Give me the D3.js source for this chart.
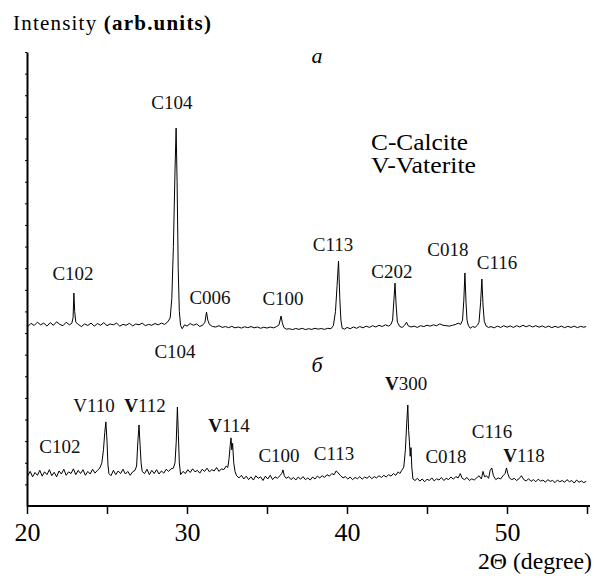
<!DOCTYPE html>
<html><head><meta charset="utf-8">
<script src="https://cdn.jsdelivr.net/npm/d3@7"></script>
<style>
body{margin:0;background:#fff;}
svg text{font-family:'Liberation Serif','Times New Roman',Tinos,serif;}
</style></head>
<body>
<svg id="chart" width="594" height="578"></svg>
<script>
// ---- data: [2theta (deg), intensity (arb. units)] ----
const traceA = [
[20.05,830],[20.25,845],[20.45,835],[20.65,850],[20.85,838],[21.05,846],[21.25,832],[21.45,848],[21.65,836],[21.85,852],[22.05,840],[22.25,834],[22.45,850],[22.65,838],[22.8,845],[22.88,870],[22.93,985],[22.98,900],[23.05,850],[23.2,840],[23.4,830],[23.6,842],[23.8,835],[24.0,846],[24.2,832],[24.4,844],[24.6,836],[24.8,848],[25.0,834],[25.2,842],[25.4,838],[25.6,846],[25.8,832],[26.0,840],[26.2,836],[26.4,845],[26.6,833],[26.8,842],[27.0,838],[27.2,846],[27.4,834],[27.6,840],[27.8,836],[28.0,844],[28.2,838],[28.4,846],[28.6,840],[28.8,852],[28.95,870],[29.05,960],[29.15,1200],[29.25,1550],[29.32,1748],[29.38,1500],[29.45,1100],[29.52,900],[29.6,835],[29.7,820],[29.85,838],[30.0,832],[30.2,844],[30.4,836],[30.6,842],[30.8,830],[31.0,838],[31.12,850],[31.22,897],[31.3,860],[31.4,840],[31.6,830],[31.8,828],[32.0,834],[32.2,826],[32.4,830],[32.6,825],[32.8,831],[33.0,824],[33.2,828],[33.4,823],[33.6,829],[33.8,825],[34.0,830],[34.2,824],[34.4,828],[34.6,822],[34.8,827],[35.0,823],[35.2,828],[35.4,824],[35.6,830],[35.75,838],[35.88,879],[35.95,850],[36.05,826],[36.2,818],[36.4,820],[36.6,816],[36.8,821],[37.0,817],[37.2,822],[37.4,816],[37.6,820],[37.8,817],[38.0,822],[38.2,818],[38.4,821],[38.6,817],[38.8,822],[39.0,820],[39.15,835],[39.28,900],[39.38,1020],[39.47,1133],[39.55,960],[39.62,860],[39.7,822],[39.85,818],[40.0,826],[40.2,820],[40.4,828],[40.6,822],[40.8,830],[41.0,824],[41.2,832],[41.4,826],[41.6,834],[41.8,828],[42.0,836],[42.2,830],[42.4,838],[42.6,832],[42.75,840],[42.85,860],[42.93,950],[43.0,1031],[43.07,930],[43.15,850],[43.3,830],[43.45,826],[43.6,836],[43.72,850],[43.82,834],[44.0,828],[44.2,832],[44.4,826],[44.6,834],[44.8,830],[45.0,836],[45.2,832],[45.4,838],[45.6,834],[45.8,842],[46.0,836],[46.2,834],[46.4,832],[46.6,836],[46.8,840],[46.95,846],[47.1,840],[47.22,860],[47.3,950],[47.37,1078],[47.44,940],[47.5,860],[47.58,836],[47.7,822],[47.85,830],[48.0,826],[48.15,836],[48.25,850],[48.35,940],[48.43,1050],[48.5,930],[48.58,855],[48.7,832],[48.85,826],[49.0,830],[49.2,824],[49.4,832],[49.6,826],[49.8,834],[50.0,827],[50.2,833],[50.4,826],[50.6,834],[50.8,828],[51.0,836],[51.2,829],[51.4,835],[51.6,828],[51.8,834],[52.0,827],[52.2,833],[52.4,826],[52.6,832],[52.8,825],[53.0,831],[53.2,826],[53.4,832],[53.6,825],[53.8,831],[54.0,826],[54.2,832],[54.4,825],[54.6,831],[54.8,827],[54.95,830]
];
const traceB = [
[20.05,140],[20.2,160],[20.35,135],[20.5,155],[20.65,142],[20.8,165],[20.95,138],[21.1,158],[21.25,145],[21.4,168],[21.55,140],[21.7,156],[21.85,135],[22.0,162],[22.15,148],[22.3,170],[22.45,142],[22.6,158],[22.75,150],[22.9,172],[23.05,145],[23.2,165],[23.35,150],[23.5,168],[23.65,142],[23.8,160],[23.95,148],[24.1,170],[24.25,152],[24.4,165],[24.55,175],[24.68,200],[24.78,260],[24.86,340],[24.93,389],[25.0,300],[25.06,190],[25.12,150],[25.25,140],[25.4,165],[25.55,145],[25.7,162],[25.85,150],[26.0,170],[26.15,148],[26.3,160],[26.45,142],[26.6,158],[26.75,165],[26.85,185],[26.93,300],[27.0,375],[27.07,280],[27.13,200],[27.2,160],[27.35,150],[27.5,170],[27.65,145],[27.8,165],[27.95,150],[28.1,168],[28.25,148],[28.4,162],[28.55,152],[28.7,170],[28.85,160],[29.0,172],[29.15,175],[29.25,200],[29.33,300],[29.4,458],[29.46,330],[29.52,200],[29.6,145],[29.75,160],[29.9,150],[30.05,168],[30.2,155],[30.35,172],[30.5,158],[30.65,165],[30.8,152],[30.95,170],[31.1,160],[31.25,175],[31.4,158],[31.55,168],[31.7,162],[31.85,178],[32.0,160],[32.15,172],[32.3,168],[32.45,185],[32.55,178],[32.63,220],[32.7,280],[32.75,315],[32.8,260],[32.85,290],[32.92,200],[33.0,160],[33.1,140],[33.25,130],[33.4,142],[33.55,125],[33.7,138],[33.85,122],[34.0,135],[34.15,120],[34.3,140],[34.45,128],[34.6,135],[34.75,118],[34.9,138],[35.05,125],[35.2,142],[35.35,122],[35.5,135],[35.65,128],[35.8,140],[35.92,150],[36.0,167],[36.08,140],[36.2,128],[36.35,135],[36.5,122],[36.65,132],[36.8,120],[36.95,134],[37.1,124],[37.25,136],[37.4,122],[37.55,130],[37.7,120],[37.85,134],[38.0,125],[38.15,138],[38.3,130],[38.45,140],[38.6,132],[38.75,145],[38.9,138],[39.05,150],[39.2,145],[39.32,162],[39.4,158],[39.5,148],[39.6,140],[39.75,130],[39.9,136],[40.05,125],[40.2,134],[40.35,122],[40.5,132],[40.65,126],[40.8,136],[40.95,124],[41.1,134],[41.25,128],[41.4,138],[41.55,126],[41.7,136],[41.85,130],[42.0,140],[42.15,132],[42.3,142],[42.45,134],[42.6,145],[42.75,138],[42.9,150],[43.05,142],[43.2,158],[43.3,150],[43.42,165],[43.55,180],[43.65,260],[43.73,380],[43.8,467],[43.85,350],[43.9,300],[43.95,230],[44.0,270],[44.05,180],[44.12,125],[44.25,118],[44.4,128],[44.55,115],[44.7,125],[44.85,112],[45.0,124],[45.15,118],[45.3,130],[45.45,116],[45.6,126],[45.75,120],[45.9,132],[46.05,118],[46.2,128],[46.35,122],[46.5,134],[46.65,124],[46.8,136],[46.95,130],[47.08,150],[47.2,128],[47.35,122],[47.5,132],[47.65,118],[47.8,126],[47.95,120],[48.1,130],[48.25,140],[48.4,125],[48.5,160],[48.6,135],[48.72,140],[48.85,128],[48.95,165],[49.05,176],[49.15,140],[49.3,122],[49.45,130],[49.6,125],[49.75,140],[49.88,150],[49.97,176],[50.05,150],[50.15,130],[50.3,122],[50.45,128],[50.6,118],[50.75,126],[50.9,140],[51.05,122],[51.2,116],[51.35,126],[51.5,114],[51.65,122],[51.8,112],[51.95,124],[52.1,115],[52.25,120],[52.4,110],[52.55,122],[52.7,114],[52.85,118],[53.0,108],[53.15,120],[53.3,112],[53.45,118],[53.6,110],[53.75,122],[53.9,112],[54.05,118],[54.2,106],[54.35,120],[54.5,110],[54.65,116],[54.8,108],[54.95,114]
];
// peak labels: [text, 2theta, intensity level]
const labelsA = [
["C104",29.06,1837],["C102",22.875,1045],["C006",31.44,934],["C100",36.0,930],
["C113",39.125,1180],["C202",42.81,1055],["C018",46.31,1157],["C116",49.375,1096]
];
const labelsB = [
["C104",29.25,685],["V110",24.19,435],["V112",27.375,435],["C102",22.06,245],
["V114",32.625,342],["C100",35.75,204],["C113",39.19,213],["V300",43.69,537],
["C018",46.19,199],["C116",49.06,315],["V118",51.06,204]
];
const panelLabels = [["а",38.125,2049],["б",38.125,620]];
const legendLines = [["C-Calcite",41.5,1647],["V-Vaterite",41.5,1540]];
const xTicks = [20,25,30,35,40,45,50,55];
const xTickLabels = [20,30,40,50];

// ---- drawing ----
const FONT = "'Liberation Serif','Times New Roman',Tinos,serif";
const svg = d3.select("#chart");
const x = d3.scaleLinear().domain([20,55]).range([27,587]);
const y = d3.scaleLinear().domain([0,2100]).range([506,52]);

const line = d3.line().x(d=>x(d[0])).y(d=>y(d[1]));
[traceA,traceB].forEach(t=>{
  svg.append("path").datum(t).attr("d",line)
    .attr("fill","none").attr("stroke","#000").attr("stroke-width",1);
});

// x axis
const xa = svg.append("g").attr("transform","translate(0,506)")
  .call(d3.axisBottom(x).tickValues(xTicks).tickSize(8).tickSizeOuter(0)
    .tickFormat(d=>xTickLabels.includes(d)?d:""));
xa.attr("font-family",FONT);
xa.select(".domain").attr("stroke","#000").attr("stroke-width",2)
  .attr("d","M27,0H590");
xa.selectAll(".tick line").attr("stroke","#000").attr("stroke-width",1.5);
xa.selectAll(".tick text").style("font-family",FONT).attr("font-size",26)
  .attr("fill","#000").attr("dy",null).attr("y",35);

// y axis
const ya = svg.append("g").attr("transform","translate(27,0)")
  .call(d3.axisLeft(y).tickValues(d3.range(100,2101,100)).tickSize(2).tickSizeOuter(0).tickFormat(""));
ya.select(".domain").attr("stroke","#000").attr("stroke-width",2);
ya.selectAll(".tick line").attr("stroke","#000").attr("stroke-width",1);

// titles
const yt = svg.append("text").attr("x",13).attr("y",30).attr("font-size",21)
  .style("font-family",FONT).attr("textLength",198).attr("lengthAdjust","spacing");
yt.append("tspan").text("Intensity ");
yt.append("tspan").attr("font-weight","bold").text("(arb.units)");
svg.append("text").attr("x",478).attr("y",569)
  .style("font-family",FONT).attr("font-size",23)
  .attr("textLength",114).attr("lengthAdjust","spacingAndGlyphs").text("2Θ (degree)");

// peak labels
function drawLabels(arr){
  arr.forEach(([t,a,i])=>{
    const tx = svg.append("text").attr("x",x(a)).attr("y",y(i))
      .style("font-family",FONT)
      .attr("text-anchor","middle").attr("font-size",19).attr("fill","#111");
    if(t[0]==="V" && t!=="V110"){
      tx.append("tspan").attr("font-weight","bold").text("V");
      tx.append("tspan").text(t.slice(1));
    } else tx.text(t);
  });
}
drawLabels(labelsA); drawLabels(labelsB);

panelLabels.forEach(([t,a,i])=>{
  svg.append("text").attr("x",x(a)).attr("y",y(i)).attr("text-anchor","middle")
    .style("font-family",FONT).attr("font-style","italic").attr("font-size",22).text(t);
});
const legendWidths = [97,105];
legendLines.forEach(([t,a,i],k)=>{
  svg.append("text").attr("x",x(a)).attr("y",y(i)).style("font-family",FONT)
    .attr("font-size",23).attr("textLength",legendWidths[k])
    .attr("lengthAdjust","spacingAndGlyphs").text(t);
});
</script>
</body></html>
